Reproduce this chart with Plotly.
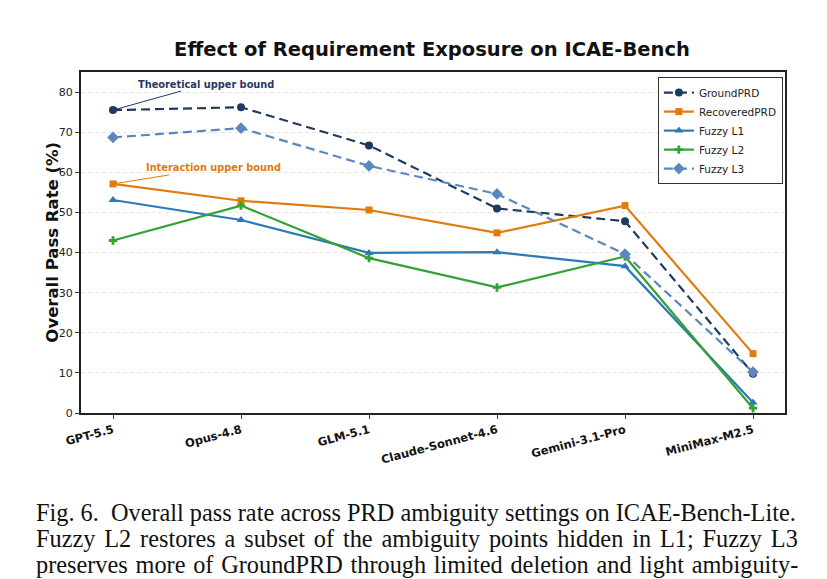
import plotly.graph_objects as go

# Models on the x axis
models = ['GPT-5.5', 'Opus-4.8', 'GLM-5.1', 'Claude-Sonnet-4.6', 'Gemini-3.1-Pro', 'MiniMax-M2.5']

# Overall pass rate (%) per setting
ground_prd = [75.5, 76.2, 66.7, 51.0, 47.8, 9.8]
recovered_prd = [57.1, 52.9, 50.6, 44.9, 51.7, 14.8]
fuzzy_l1 = [53.1, 48.1, 39.9, 40.1, 36.6, 2.6]
fuzzy_l2 = [43.0, 51.7, 38.6, 31.3, 39.0, 1.2]
fuzzy_l3 = [68.7, 71.0, 61.6, 54.6, 39.6, 10.2]

y_ticks = [0, 10, 20, 30, 40, 50, 60, 70, 80]

caption_lines = [
    'Fig. 6.  Overall pass rate across PRD ambiguity settings on ICAE-Bench-Lite.',
    'Fuzzy L2 restores a subset of the ambiguity points hidden in L1; Fuzzy L3',
    'preserves more of GroundPRD through limited deletion and light ambiguity-',
]
# extra word spacing so the caption lines look justified
caption_spacing = [0, 2.8, 1.7]

NAVY = '#1f3a5f'
ORANGE = '#e07b0c'
BLUE = '#2a7ab8'
GREEN = '#33a233'
STEEL = '#5b87bd'

x_idx = list(range(len(models)))

fig = go.Figure()

def add_series(name, values, color, symbol, size, dash='solid'):
    fig.add_trace(go.Scatter(
        x=x_idx, y=values, name=name, mode='lines+markers',
        line=dict(color=color, width=2.2, dash=dash),
        marker=dict(symbol=symbol, size=size, color=color),
    ))

add_series('GroundPRD', ground_prd, NAVY, 'circle', 8, dash='9px,5px')
add_series('RecoveredPRD', recovered_prd, ORANGE, 'square', 7)
add_series('Fuzzy L1', fuzzy_l1, BLUE, 'triangle-up', 8)
add_series('Fuzzy L2', fuzzy_l2, GREEN, 'cross', 7)
add_series('Fuzzy L3', fuzzy_l3, STEEL, 'diamond', 9, dash='9px,5px')

# arrows to the upper bounds
fig.add_annotation(x=0, y=ground_prd[0], ax=93, ay=-26, text='<b>Theoretical upper bound</b>',
                   font=dict(size=9.8, color=NAVY, family='DejaVu Sans'),
                   showarrow=True, arrowhead=2, arrowsize=0.8, arrowwidth=1, arrowcolor=NAVY)
fig.add_annotation(x=0, y=recovered_prd[0], ax=100, ay=-16, text='<b>Interaction upper bound</b>',
                   font=dict(size=9.8, color=ORANGE, family='DejaVu Sans'),
                   showarrow=True, arrowhead=2, arrowsize=0.8, arrowwidth=1, arrowcolor=ORANGE)

# y axis title
fig.add_annotation(xref='paper', yref='paper', x=-0.041, y=0.5, textangle=-90, showarrow=False,
                   xanchor='center', yanchor='middle', text='<b>Overall Pass Rate (%)</b>',
                   font=dict(size=16.5, color='#111', family='DejaVu Sans'))

# caption below the figure
for i, line in enumerate(caption_lines):
    txt = '<span style="word-spacing:%.1fpx">%s</span>' % (caption_spacing[i], line)
    fig.add_annotation(xref='paper', yref='paper', x=-0.0668, y=-0.293 - i * 0.075,
                       xanchor='left', yanchor='middle', showarrow=False, text=txt,
                       font=dict(size=24.3, color='#111', family='Liberation Serif'))

fig.update_layout(
    width=827, height=579,
    margin=dict(l=73, r=50, t=64, b=174),
    paper_bgcolor='white', plot_bgcolor='white',
    font=dict(family='DejaVu Sans', color='#222'),
    title=dict(text='<b>Effect of Requirement Exposure on ICAE-Bench</b>', x=0.5127, xanchor='center',
               y=0.929, yanchor='middle', font=dict(size=19.5, color='#111')),
    legend=dict(x=0.997, y=0.985, xanchor='right', yanchor='top', bgcolor='white',
                bordercolor='#333', borderwidth=1, font=dict(size=10.5, color='#222'),
                tracegroupgap=0, itemwidth=30),
    showlegend=True,
)

fig.update_xaxes(
    range=[-0.25, 5.25], tickmode='array', tickvals=x_idx, ticktext=['<b>%s</b>' % m for m in models],
    tickangle=-15, tickfont=dict(size=11.5, color='#111'),
    showgrid=False, zeroline=False, showline=True, linecolor='#222', linewidth=2, mirror=True,
    ticks='outside', ticklen=4, tickcolor='#444',
)
fig.update_yaxes(
    range=[0, 85], tickvals=y_ticks, tickfont=dict(size=11, color='#222'),
    showgrid=True, gridcolor='#e6e6e6', griddash='4px,3px', gridwidth=1,
    zeroline=False, showline=True, linecolor='#222', linewidth=2, mirror=True,
    ticks='outside', ticklen=4, tickcolor='#444',
)

fig.write_html('out.html')
